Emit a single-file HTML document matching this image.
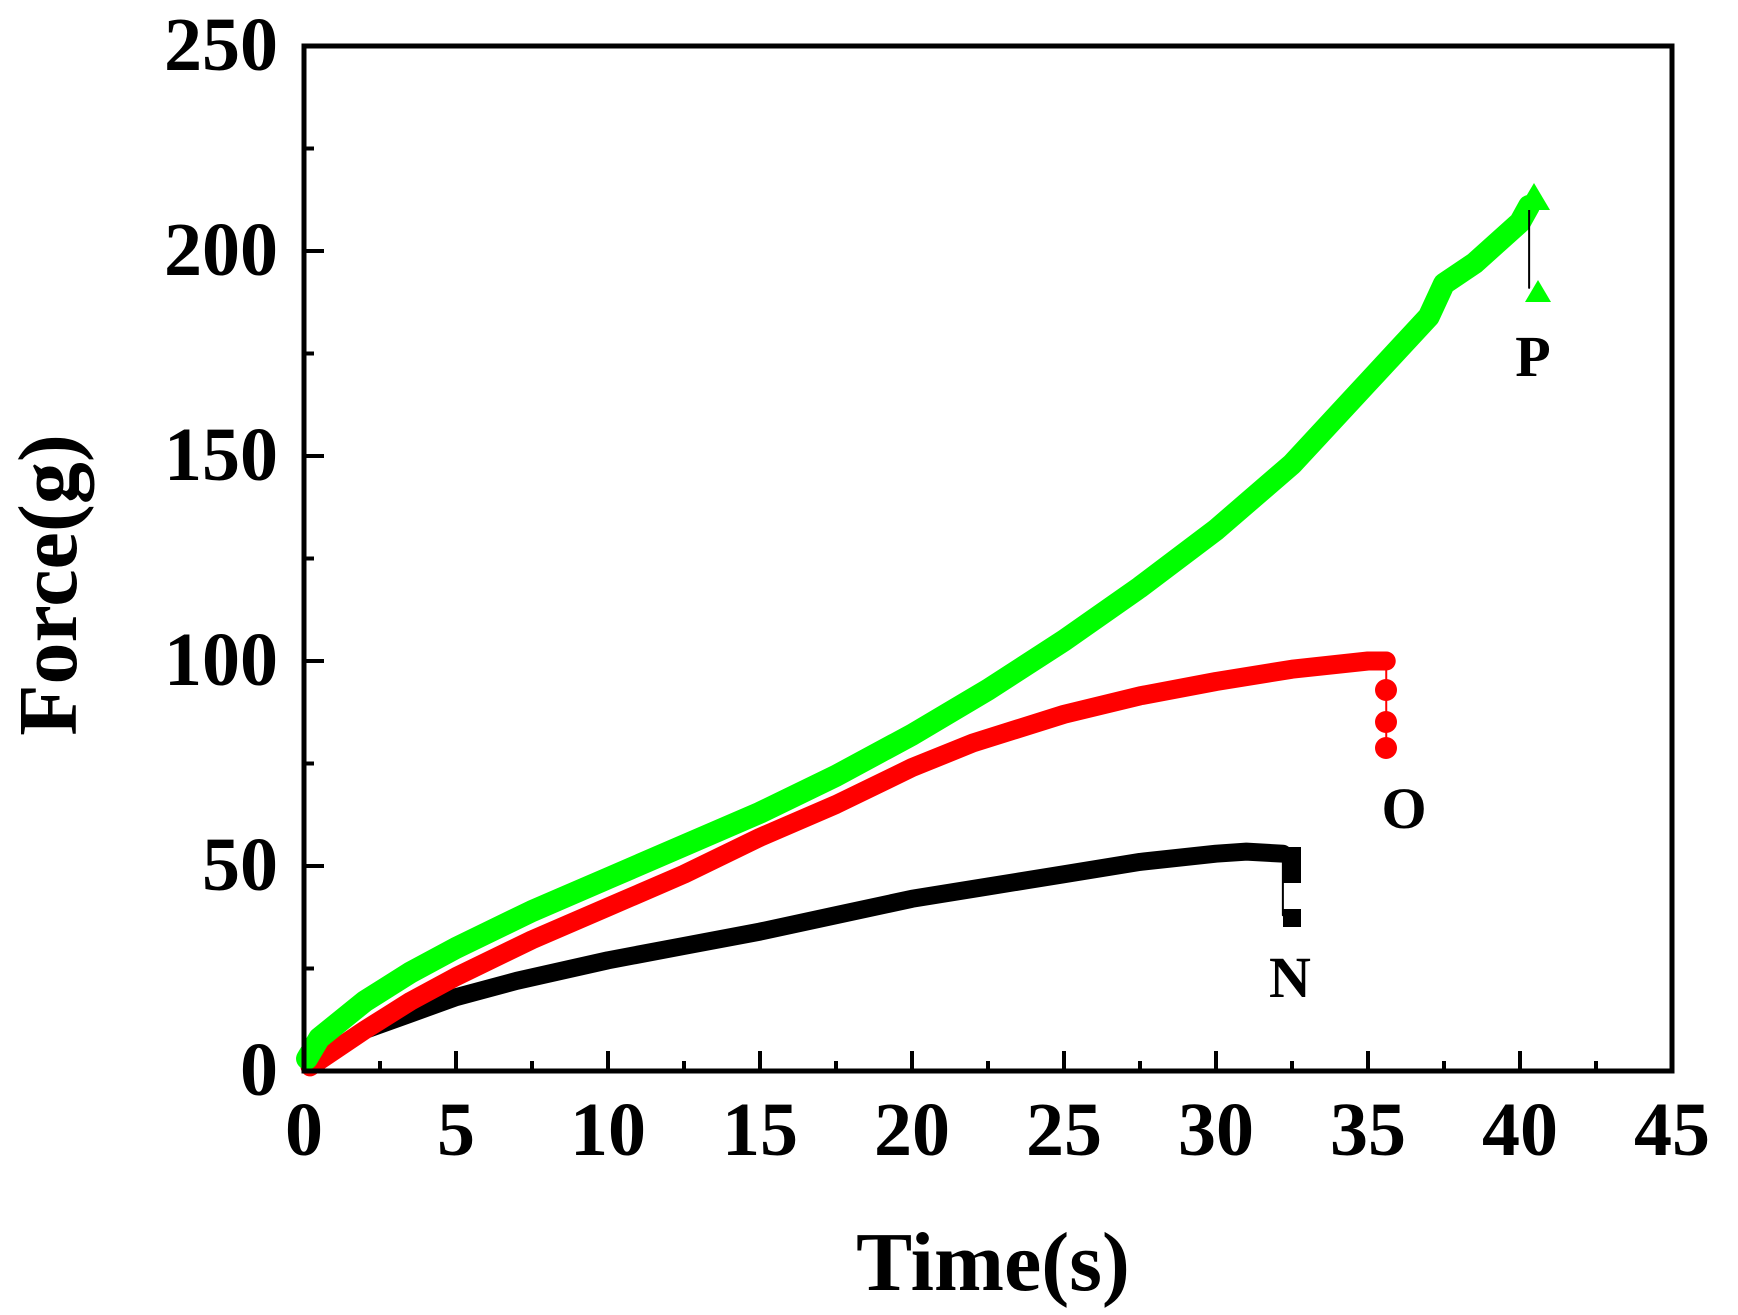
<!DOCTYPE html>
<html><head><meta charset="utf-8"><style>
html,body{margin:0;padding:0;background:#fff;}
svg{display:block}
text{font-family:"Liberation Serif","Times New Roman",serif;font-weight:bold;fill:#000}
</style></head><body>
<svg width="1738" height="1315" viewBox="0 0 1738 1315" xmlns="http://www.w3.org/2000/svg">
<g transform="translate(304,1071) scale(30.4,-4.1)" fill="none" stroke-linejoin="round" stroke-linecap="round">
<polyline vector-effect="non-scaling-stroke" stroke="#000" stroke-width="18" points="0.2,1 1,5 2,10 3.5,14 5,18 7,22 10,27 12.5,30.5 15,34 17.5,38 20,42 22.5,45 25,48 27.5,51 30,53 31,53.5 32.2,53"/>
<line vector-effect="non-scaling-stroke" stroke="#000" stroke-width="2" x1="32.2" y1="53" x2="32.2" y2="38"/>
<polyline vector-effect="non-scaling-stroke" stroke="#f00" stroke-width="19" points="0.2,1 1,5 2,10 3.5,17 5,23 7.5,32 10,40 12.5,48 15,57 17.5,65 20,74 22,80 25,87 27.5,91.5 30,95 32.5,98 35,100 35.6,100"/>
<line vector-effect="non-scaling-stroke" stroke="#f00" stroke-width="2" x1="35.6" y1="100" x2="35.6" y2="79"/>
<polyline vector-effect="non-scaling-stroke" stroke="#0f0" stroke-width="22" points="0.1,3 0.5,8 2,17 3.5,24 5,30 7.5,39 10,47 12.5,55 15,63 17.5,72 20,82 22.5,93 25,105 27.5,118 30,132 32.5,148 35,168 37,184 37.5,192 38.5,197 40,207 40.3,211"/>
<line vector-effect="non-scaling-stroke" stroke="#000" stroke-width="2" x1="40.3" y1="211" x2="40.3" y2="191"/>
</g>
<rect x="1283" y="909" width="18" height="18" fill="#000"/>
<rect x="1283" y="847" width="18" height="36" fill="#000"/>
<circle cx="1386" cy="690" r="11" fill="#f00"/>
<circle cx="1386" cy="722" r="11" fill="#f00"/>
<circle cx="1386" cy="748" r="11" fill="#f00"/>
<polygon points="1538,280 1551,302 1525,302" fill="#0f0"/>
<polygon points="1534,183 1550,210 1518,210" fill="#0f0"/>
<rect x="304" y="46" width="1368" height="1025" fill="none" stroke="#000" stroke-width="5"/>
<g stroke="#000" stroke-width="4">
<line x1="456" y1="1071" x2="456" y2="1051"/><line x1="608" y1="1071" x2="608" y2="1051"/><line x1="760" y1="1071" x2="760" y2="1051"/><line x1="912" y1="1071" x2="912" y2="1051"/><line x1="1064" y1="1071" x2="1064" y2="1051"/><line x1="1216" y1="1071" x2="1216" y2="1051"/><line x1="1368" y1="1071" x2="1368" y2="1051"/><line x1="1520" y1="1071" x2="1520" y2="1051"/>
<line x1="380" y1="1071" x2="380" y2="1061"/><line x1="532" y1="1071" x2="532" y2="1061"/><line x1="684" y1="1071" x2="684" y2="1061"/><line x1="836" y1="1071" x2="836" y2="1061"/><line x1="988" y1="1071" x2="988" y2="1061"/><line x1="1140" y1="1071" x2="1140" y2="1061"/><line x1="1292" y1="1071" x2="1292" y2="1061"/><line x1="1444" y1="1071" x2="1444" y2="1061"/><line x1="1596" y1="1071" x2="1596" y2="1061"/>
<line x1="304" y1="866" x2="324" y2="866"/><line x1="304" y1="661" x2="324" y2="661"/><line x1="304" y1="456" x2="324" y2="456"/><line x1="304" y1="251" x2="324" y2="251"/>
<line x1="304" y1="968.5" x2="314" y2="968.5"/><line x1="304" y1="763.5" x2="314" y2="763.5"/><line x1="304" y1="558.5" x2="314" y2="558.5"/><line x1="304" y1="353.5" x2="314" y2="353.5"/><line x1="304" y1="148.5" x2="314" y2="148.5"/>
</g>
<g font-size="76" text-anchor="middle">
<text x="304" y="1155">0</text><text x="456" y="1155">5</text><text x="608" y="1155">10</text><text x="760" y="1155">15</text><text x="912" y="1155">20</text><text x="1064" y="1155">25</text><text x="1216" y="1155">30</text><text x="1368" y="1155">35</text><text x="1520" y="1155">40</text><text x="1672" y="1155">45</text>
</g>
<g font-size="76" text-anchor="end">
<text x="278" y="1095">0</text><text x="278" y="890">50</text><text x="278" y="685">100</text><text x="278" y="480">150</text><text x="278" y="275">200</text><text x="278" y="70">250</text>
</g>
<g font-size="58" text-anchor="middle">
<text x="1290" y="997">N</text><text x="1404" y="828">O</text><text x="1533" y="376">P</text>
</g>
<text x="993" y="1290" font-size="84" text-anchor="middle">Time(s)</text>
<text transform="translate(76,585) rotate(-90)" font-size="84" text-anchor="middle">Force(g)</text>
</svg>
</body></html>
